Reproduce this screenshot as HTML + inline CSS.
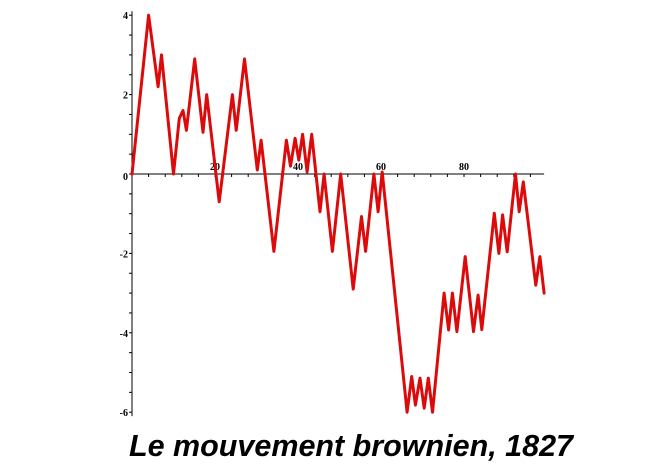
<!DOCTYPE html>
<html><head><meta charset="utf-8"><style>
html,body{margin:0;padding:0;background:#fff;}
svg{display:block;}
</style></head><body>
<svg id="chart" width="665" height="471" viewBox="0 0 665 471">
<g id="axes"></g>
<path id="walk" fill="none" stroke="#dc0a0a" stroke-width="3" stroke-linejoin="round" stroke-linecap="round"></path>
<text x="351" y="456" text-anchor="middle" font-family="'Liberation Sans',sans-serif" font-weight="bold" font-style="italic" font-size="30.5" fill="#000">Le mouvement brownien, 1827</text>
</svg>
<script>
const xs = [0,4,6.3,7.1,10,11.4,12.3,13.1,15.1,17.1,18,21,24.2,25.1,27.1,30.2,31.1,34.2,37.2,38.2,39.3,40.2,41.1,42.2,43.3,45.3,46.3,48.3,50.3,53.3,55.3,56.3,58.3,59.3,60.3,66.3,67.4,68.3,69.4,70.4,71.4,72.4,75.2,76.3,77.2,78.3,80.3,82.3,83.4,84.3,87.3,88.4,89.3,90.4,92.4,93.3,94.3,97.3,98.3,99.3];
const ys = [0,4,2.2,3,0,1.4,1.6,1.1,2.9,1.05,2,-0.7,2,1.1,2.9,0.1,0.85,-1.95,0.85,0.2,0.9,0.35,1,0.05,1,-0.95,0,-1.95,0,-2.9,-1.07,-1.95,0,-0.95,0.05,-6,-5.1,-5.82,-5.14,-5.9,-5.14,-6,-3,-3.93,-3,-3.97,-2.08,-3.97,-3.05,-3.92,-0.99,-2,-1.03,-1.96,0,-0.95,-0.2,-2.8,-2.08,-3];
const xTicks = [20,40,60,80];
const yTicks = [4,2,0,-2,-4,-6];
const X = v => 132 + v*4.15;
const Y = v => 174 - v*39.7;
const NS = "http://www.w3.org/2000/svg";
const axes = document.getElementById('axes');
function mk(tag, attrs){const e=document.createElementNS(NS,tag);for(const k in attrs)e.setAttribute(k,attrs[k]);return e;}
let yl = mk('line',{x1:X(0),x2:X(0),y1:Y(4.1),y2:Y(-6.1),stroke:'#000','stroke-width':1});


axes.appendChild(yl);
let xl = mk('line',{x1:X(0),x2:X(99.3),y1:Y(0),y2:Y(0),stroke:'#000','stroke-width':1});


axes.appendChild(xl);
for(let v=4; v<=99; v+=4){
  let t = mk('line',{x1:X(v),x2:X(v),y1:Y(0),y2:Y(0)+3,stroke:'#000','stroke-width':1});
  
  
  axes.appendChild(t);
}
for(let v=-6; v<=4; v+=0.5){
  let t = mk('line',{x1:X(0)-3,x2:X(0),y1:Y(v),y2:Y(v),stroke:'#000','stroke-width':1});
  
  
  axes.appendChild(t);
}
xTicks.forEach(v=>{
  let t = mk('text',{x:X(v),y:Y(0)-4,'text-anchor':'middle','font-family':"'Liberation Serif',serif",'font-weight':'bold','font-size':10});
  t.textContent = v;
  
  
  axes.appendChild(t);
});
yTicks.forEach(v=>{
  let t = mk('text',{x:X(0)-4,y:Y(v)+(v===0?6:4),'text-anchor':'end','font-family':"'Liberation Serif',serif",'font-weight':'bold','font-size':10});
  t.textContent = v;
  
  
  axes.appendChild(t);
});
document.getElementById('walk').setAttribute('d', xs.map((x,i)=>(i?'L':'M')+X(x).toFixed(1)+','+Y(ys[i]).toFixed(1)).join(' '));
</script>
</body></html>
